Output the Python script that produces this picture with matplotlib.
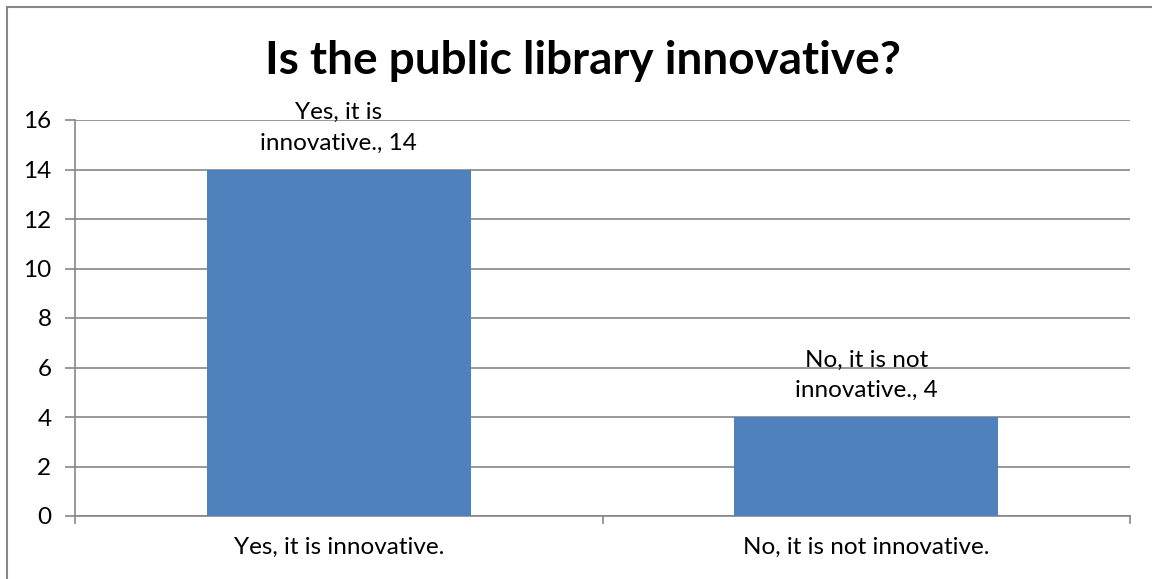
import matplotlib
matplotlib.use("Agg")
import matplotlib.pyplot as plt
from matplotlib.lines import Line2D

categories = ["Yes, it is innovative.", "No, it is not innovative."]
values = [14, 4]
label_texts = ["Yes, it is\ninnovative., 14", "No, it is not\ninnovative., 4"]
yticks = [0, 2, 4, 6, 8, 10, 12, 14, 16]
title = "Is the public library innovative?"

plt.rcParams['font.family'] = ['Lato', 'DejaVu Sans']

fig = plt.figure(figsize=(11.52, 5.79), dpi=100)
ax = fig.add_axes([75/1152, 1-516/579, (1130-75)/1152, (516-120)/579])

grid_c = '#868686'
fs = 17.5
x = list(range(len(categories)))
ax.bar(x, values, width=0.5, color='#4F81BD', zorder=3)
ax.set_xlim(-0.5, len(categories)-0.5)
ax.set_ylim(0, 16)
ax.set_yticks(yticks)
ax.set_yticklabels([str(t) for t in yticks], fontsize=fs)
ax.yaxis.grid(True, color=grid_c, linewidth=1.2, zorder=0)
ax.set_xticks(x)
ax.set_xticklabels(categories, fontsize=fs)
ax.tick_params(axis='x', length=0, pad=15)
ax.tick_params(axis='y', length=7, color=grid_c, width=1.2, pad=10)
for b in [-0.5, 0.5, 1.5]:
    ax.plot([b, b], [0, -0.3], color=grid_c, lw=1.2, clip_on=False, zorder=4)
for s in ['top', 'right']:
    ax.spines[s].set_visible(False)
for s in ['left', 'bottom']:
    ax.spines[s].set_color(grid_c)
    ax.spines[s].set_linewidth(1.2)

for xi, v, t in zip(x, values, label_texts):
    ax.annotate(t, (xi, v), xytext=(0, 11.5), textcoords='offset points',
                ha='center', va='bottom', fontsize=fs, linespacing=1.55)

fig.text(583/1152, 1-61/579, title, ha='center', va='center', fontsize=33, fontweight='bold')

fig.add_artist(Line2D([7/1152, 7/1152], [0, 1-7/579], color='#888888', lw=1.5, transform=fig.transFigure))
fig.add_artist(Line2D([7/1152, 1], [1-7/579, 1-7/579], color='#888888', lw=1.5, transform=fig.transFigure))

fig.savefig("out.png", dpi=100)
